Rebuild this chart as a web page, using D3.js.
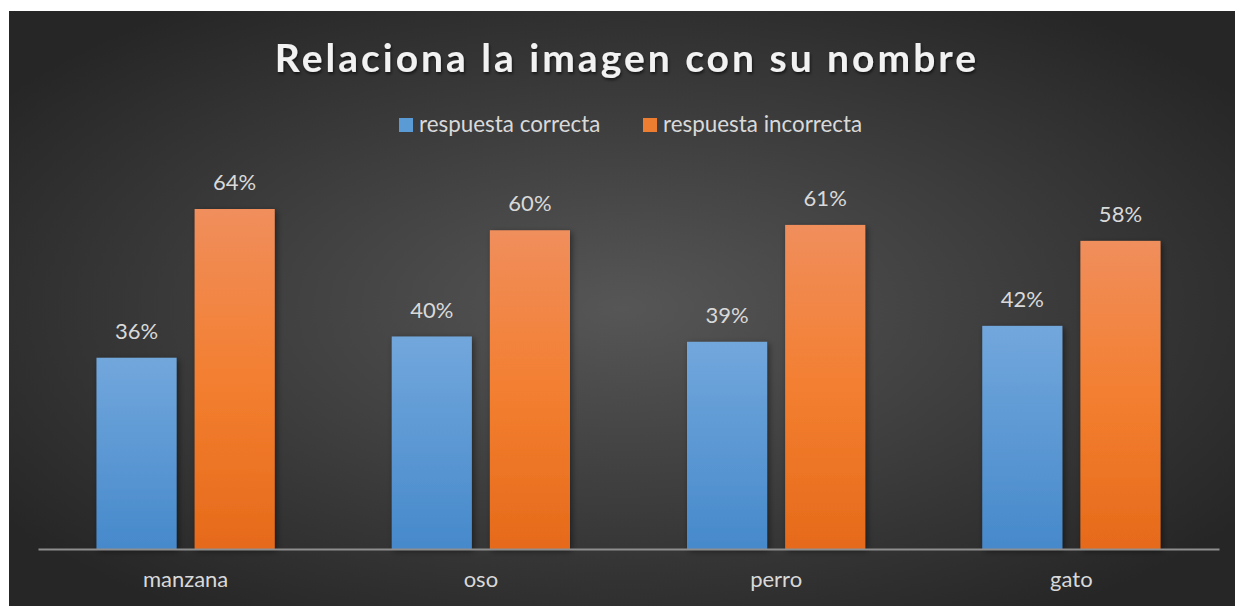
<!DOCTYPE html>
<html><head><meta charset="utf-8">
<script src="https://cdn.jsdelivr.net/npm/d3@7"></script>
<style>html,body{margin:0;padding:0;background:#fff;}svg{display:block;}</style>
</head><body>
<svg id="chart" width="1235" height="606"></svg>
<script>
const categories = ["manzana", "oso", "perro", "gato"];
const seriesNames = ["respuesta correcta", "respuesta incorrecta"];
const correcta = [0.36, 0.40, 0.39, 0.42];
const incorrecta = [0.64, 0.60, 0.61, 0.58];
const titleText = "Relaciona la imagen con su nombre";

const W = 1235, H = 606;
const svg = d3.select("#chart");
const defs = svg.append("defs");
const FONT = "Lato, 'Open Sans', sans-serif";

// background gradient
const bg = defs.append("radialGradient").attr("id", "bg")
  .attr("cx", "50%").attr("cy", "50%").attr("r", "62%");
bg.append("stop").attr("offset", "0%").attr("stop-color", "#565656");
bg.append("stop").attr("offset", "100%").attr("stop-color", "#262626");

const gBlue = defs.append("linearGradient").attr("id", "gBlue").attr("x1", 0).attr("y1", 0).attr("x2", 0).attr("y2", 1);
gBlue.append("stop").attr("offset", "0%").attr("stop-color", "#72a7dc");
gBlue.append("stop").attr("offset", "100%").attr("stop-color", "#4689cb");
const gOr = defs.append("linearGradient").attr("id", "gOr").attr("x1", 0).attr("y1", 0).attr("x2", 0).attr("y2", 1);
gOr.append("stop").attr("offset", "0%").attr("stop-color", "#f08e5c");
gOr.append("stop").attr("offset", "50%").attr("stop-color", "#f37f31");
gOr.append("stop").attr("offset", "100%").attr("stop-color", "#e66a1a");

const sh = defs.append("filter").attr("id", "sh").attr("x", "-20%").attr("y", "-20%").attr("width", "140%").attr("height", "140%");
sh.append("feDropShadow").attr("dx", 2).attr("dy", 2).attr("stdDeviation", 3).attr("flood-color", "#000").attr("flood-opacity", 0.45);
const tsh = defs.append("filter").attr("id", "tsh").attr("x", "-5%").attr("y", "-30%").attr("width", "110%").attr("height", "160%");
tsh.append("feDropShadow").attr("dx", 1).attr("dy", 2).attr("stdDeviation", 1.5).attr("flood-color", "#000").attr("flood-opacity", 0.6);

svg.append("rect").attr("x", 9).attr("y", 11).attr("width", W - 9).attr("height", H - 11).attr("fill", "url(#bg)");

// scales
const x0 = d3.scaleBand().domain(categories).range([38, 1219]).paddingInner(0.3963).paddingOuter(0.1981);
const x1 = d3.scaleBand().domain(seriesNames).range([0, x0.bandwidth()]).paddingInner(0.1837);
const y = d3.scaleLinear().domain([0, 0.64]).range([549, 209]);

const data = categories.map((c, i) => ({cat: c, vals: [correcta[i], incorrecta[i]]}));
const fills = ["url(#gBlue)", "url(#gOr)"];
const legendFill = ["#5b9bd5", "#ed7d31"];

const groups = svg.append("g").selectAll("g").data(data).join("g")
  .attr("transform", d => `translate(${x0(d.cat)},0)`);
groups.selectAll("rect").data(d => d.vals.map((v, j) => ({v, j}))).join("rect")
  .attr("x", d => x1(seriesNames[d.j]))
  .attr("y", d => y(d.v))
  .attr("width", x1.bandwidth())
  .attr("height", d => y(0) - y(d.v))
  .attr("fill", d => fills[d.j])
  .attr("filter", "url(#sh)");
groups.selectAll("text").data(d => d.vals.map((v, j) => ({v, j}))).join("text")
  .attr("x", d => x1(seriesNames[d.j]) + x1.bandwidth() / 2)
  .attr("y", d => y(d.v) - 19)
  .attr("text-anchor", "middle")
  .attr("font-family", FONT).attr("font-size", 22)
  .attr("fill", "#d9d9d9")
  .text(d => d3.format(".0%")(d.v));

// axis line
const xAxis = svg.append("g").attr("transform", "translate(0,549)")
  .call(d3.axisBottom(x0).tickSize(0).tickPadding(0));
xAxis.select(".domain").attr("stroke", "#8e8e8e").attr("stroke-width", 2);
xAxis.selectAll("text").attr("font-family", FONT).attr("font-size", 22)
  .attr("fill", "#d9d9d9").attr("dy", 0).attr("y", 38);

// title
svg.append("text").attr("x", 627).attr("y", 72).attr("text-anchor", "middle")
  .attr("font-family", FONT).attr("font-weight", "bold").attr("font-size", 39)
  .attr("letter-spacing", 3)
  .attr("fill", "#f2f2f2").attr("filter", "url(#tsh)")
  .text(titleText);

// legend
const legX = [399, 643];
const leg = svg.append("g").selectAll("g").data(seriesNames).join("g")
  .attr("transform", (d, i) => `translate(${legX[i]},118)`);
leg.append("rect").attr("width", 14).attr("height", 14).attr("fill", (d, i) => legendFill[i]);
leg.append("text").attr("x", 20).attr("y", 14).attr("font-family", FONT).attr("font-size", 22.4)
  .attr("fill", "#d9d9d9").text(d => d);
</script>
</body></html>
